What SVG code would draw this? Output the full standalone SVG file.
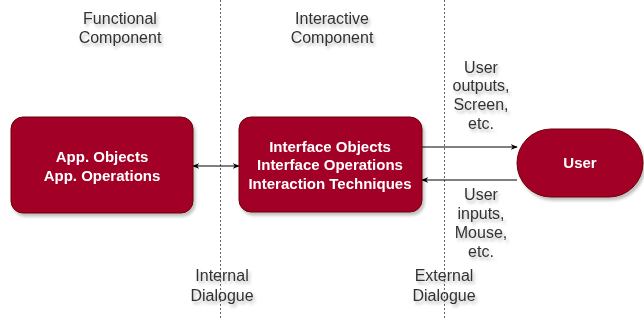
<svg xmlns="http://www.w3.org/2000/svg" width="644" height="320" viewBox="0 0 644 320">
<style>
.lbl{font-family:"Liberation Sans",Arial,sans-serif;font-size:16px;fill:#333333;text-anchor:middle}
.box{fill:#a20025;stroke:#6f0000;stroke-width:1}
.btxt{font-family:"Liberation Sans",Arial,sans-serif;font-size:15px;font-weight:bold;fill:#ffffff;text-anchor:middle}
.sep{stroke:#666666;stroke-width:1;stroke-dasharray:2 2;fill:none}
.conn{stroke:#000000;stroke-width:1;fill:none}
</style>
<defs>
<filter id="sh" x="-20%" y="-20%" width="140%" height="140%">
<feDropShadow dx="2" dy="3" stdDeviation="1.5" flood-color="#000" flood-opacity="0.25"/>
</filter>
<marker id="ah" viewBox="0 0 10 10" refX="9" refY="5" markerWidth="7" markerHeight="7" orient="auto-start-reverse" markerUnits="userSpaceOnUse">
<path d="M0,1 L10,5 L0,9 L3,5 Z" fill="#000"/>
</marker>
</defs>
<rect width="644" height="320" fill="#ffffff"/>
<g id="separators">
<line class="sep" x1="220.5" y1="0" x2="220.5" y2="320"/>
<line class="sep" x1="444.5" y1="0" x2="444.5" y2="320"/>
</g>
<g id="labels" filter="url(#sh)">
<text class="lbl" x="120" y="24">Functional</text>
<text class="lbl" x="120" y="43">Component</text>
<text class="lbl" x="332" y="24">Interactive</text>
<text class="lbl" x="332" y="43">Component</text>
<text class="lbl" x="481" y="73">User</text>
<text class="lbl" x="481" y="91">outputs,</text>
<text class="lbl" x="481" y="110">Screen,</text>
<text class="lbl" x="481" y="129">etc.</text>
<text class="lbl" x="481" y="200">User</text>
<text class="lbl" x="481" y="219">inputs,</text>
<text class="lbl" x="481" y="238">Mouse,</text>
<text class="lbl" x="481" y="257">etc.</text>
<text class="lbl" x="222" y="281">Internal</text>
<text class="lbl" x="222" y="301">Dialogue</text>
<text class="lbl" x="444" y="281">External</text>
<text class="lbl" x="444" y="301">Dialogue</text>
</g>
<g id="connectors">
<line class="conn" x1="193" y1="166" x2="239" y2="166" marker-start="url(#ah)" marker-end="url(#ah)"/>
<line class="conn" x1="422" y1="147" x2="517" y2="147" marker-end="url(#ah)"/>
<line class="conn" x1="517" y1="180" x2="422" y2="180" marker-end="url(#ah)"/>
</g>
<g id="app" filter="url(#sh)">
<rect class="box" x="11" y="117" width="182" height="96" rx="12"/>
<text class="btxt" x="102" y="162">App. Objects</text>
<text class="btxt" x="102" y="181">App. Operations</text>
</g>
<g id="interface" filter="url(#sh)">
<rect class="box" x="239" y="117" width="183" height="95" rx="12"/>
<text class="btxt" x="330" y="152">Interface Objects</text>
<text class="btxt" x="330" y="170">Interface Operations</text>
<text class="btxt" x="330" y="189">Interaction Techniques</text>
</g>
<g id="user" filter="url(#sh)">
<rect class="box" x="517" y="129" width="126" height="68" rx="34"/>
<text class="btxt" x="580" y="168">User</text>
</g>
</svg>
